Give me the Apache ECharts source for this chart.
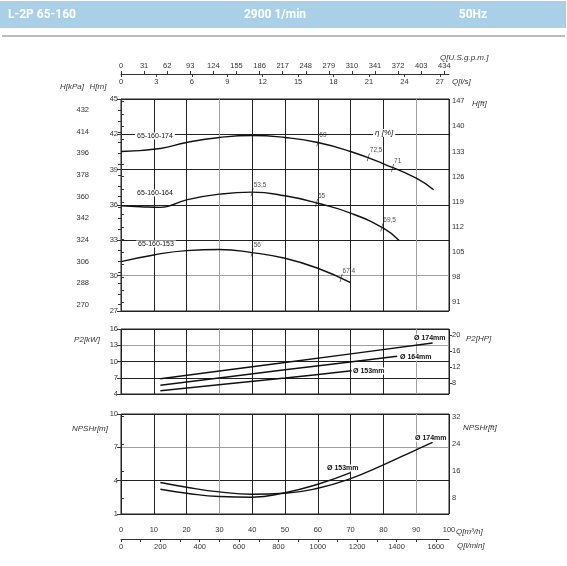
<!DOCTYPE html>
<html><head><meta charset="utf-8">
<script src="https://cdn.jsdelivr.net/npm/echarts@6.0.0/dist/echarts.min.js"></script>
<style>html,body{margin:0;padding:0;background:#fff}#c{width:567px;height:566px}</style>
</head><body><div id="c"></div>
<script>
// ---------- DATA ----------
// Head curves H[m] vs Q[m3/h]
const Q174 = [0, 12, 20, 30, 40, 50, 60, 70, 80, 90, 95.3];
const H174 = [40.54, 40.80, 41.31, 41.73, 41.90, 41.73, 41.31, 40.54, 39.5, 38.28, 37.29];
const Q164 = [0, 6, 12, 20, 30, 40, 50, 60, 70, 80, 84.8];
const H164 = [35.93, 35.85, 35.8, 36.44, 36.92, 37.09, 36.78, 36.15, 35.31, 34.03, 32.98];
const Q153 = [0, 10, 20, 30, 40, 50, 60, 70];
const H153 = [31.19, 31.76, 32.13, 32.22, 31.96, 31.48, 30.63, 29.41];
// Efficiency marks [Q, H, label]
const E174 = [[60, 41.31, '69'], [75.4, 40.05, '72,5'], [82.8, 39.15, '71']];
const E164 = [[40, 37.09, '53,5'], [59.6, 36.18, '65'], [79.5, 34.1, '69,5']];
const E153 = [[40, 31.96, '56'], [67.1, 29.8, '67,4']];
// Power P2[kW]
const QP174 = [12, 50, 95];
const P174 = [6.83, 9.8, 13.42];
const QP164 = [12, 50, 84.2];
const P164 = [5.6, 8.47, 10.95];
const QP153 = [12, 50, 70.3];
const P153 = [4.6, 6.94, 8.3];
// NPSHr[m]
const QN174 = [12, 20, 30, 40, 50, 60, 70, 80, 90, 95];
const N174 = [3.83, 3.41, 2.99, 2.78, 2.87, 3.32, 4.19, 5.42, 6.78, 7.44];
const QN153 = [12, 20, 30, 40, 50, 60, 70];
const N153 = [3.23, 2.87, 2.57, 2.51, 2.92, 3.68, 4.73];
// Tick labels
const qTicks = [0, 10, 20, 30, 40, 50, 60, 70, 80, 90, 100];
const gpmTicks = [0, 31, 62, 93, 124, 155, 186, 217, 248, 279, 310, 341, 372, 403, 434];
const lsTicks = [0, 3, 6, 9, 12, 15, 18, 21, 24, 27];
const lminTicks = [0, 200, 400, 600, 800, 1000, 1200, 1400, 1600];
const hmTicks = [27, 30, 33, 36, 39, 42, 45];
const kpaTicks = [270, 288, 306, 324, 342, 360, 378, 396, 414, 432];
const hftTicks = [91, 98, 105, 112, 119, 126, 133, 140, 147];
const kwTicks = [4, 7, 10, 13, 16];
const hpTicks = [8, 12, 16, 20];
const npshTicks = [1, 4, 7, 10];
const npshFtTicks = [8, 16, 24, 32];

// ---------- helpers ----------
const NARROW = "'Liberation Sans Narrow','Liberation Sans',Arial,sans-serif";
const SANS = "'Liberation Sans',Arial,sans-serif";
const pair = (xs, ys) => xs.map((x, i) => [x, ys[i]]);
const minor = (arr, step) => { const o = []; for (let v = arr[0]; v <= arr[arr.length - 1] + 1e-9; v += step) o.push(+v.toFixed(4)); return o; };
const D = '#222', G = '#a0a0a0';
const fmt = v => String(Math.round(v * 100) / 100);
const lab = { fontFamily: NARROW, fontSize: 7.5, color: '#333', formatter: fmt };
const M3H_PER_LS = 3.6, GPM_PER_M3H = 4.40287, LMIN_PER_M3H = 16.6667;
const KPA_PER_M = 9.80665, FT_PER_M = 3.28084, HP_PER_KW = 1.34102;

function sideAxis(grid, pos, min, max, ticks, tickVals, offset) {
  return {
    gridIndex: grid, type: 'value', position: pos, offset: offset || 0, min: min, max: max,
    axisLine: { show: !!offset, lineStyle: { color: '#333', width: 1 } },
    axisTick: { show: true, length: 3, customValues: tickVals || ticks, lineStyle: { color: '#333' } },
    axisLabel: Object.assign({}, lab, { customValues: ticks, margin: 3 }),
    splitLine: { show: false }
  };
}
function curve(name, xi, yi, data, w, sm) {
  return { name: name, type: 'line', xAxisIndex: xi, yAxisIndex: yi, data: data,
    smooth: sm === undefined ? 0.5 : sm, symbol: 'none', lineStyle: { color: '#111', width: w || 1.4 }, z: 5 };
}
function eta(data) {
  return { type: 'scatter', xAxisIndex: 0, yAxisIndex: 0, data: data,
    symbol: 'path://M0,10L3,0L4,0L1,10Z', symbolSize: [3, 8], itemStyle: { color: '#222' }, z: 6,
    label: { show: true, position: [3, -3], align: 'left', verticalAlign: 'middle',
      formatter: p => p.data[2], fontFamily: NARROW, fontSize: 6.5, color: '#222' } };
}
function txt(x, y, text, o) {
  o = o || {};
  return { type: 'text', x: x, y: y, z: 20, style: Object.assign({
    text: text, fill: '#333', font: 'italic 8px ' + SANS, textAlign: 'left', textVerticalAlign: 'middle' }, o) };
}

const chart = echarts.init(document.getElementById('c'));
const option = {
  animation: false,
  backgroundColor: '#fff',
  grid: [
    { left: 121, top: 99, width: 328, height: 212, show: true, borderColor: '#222', borderWidth: 1, backgroundColor: 'transparent' },
    { left: 121, top: 329, width: 328, height: 65, show: true, borderColor: '#222', borderWidth: 1, backgroundColor: 'transparent' },
    { left: 121, top: 414, width: 328, height: 100, show: true, borderColor: '#222', borderWidth: 1, backgroundColor: 'transparent' }
  ],
  xAxis: [
    { gridIndex: 0, type: 'value', min: 0, max: 100, interval: 10, axisLine: { show: false }, axisTick: { show: false },
      axisLabel: { show: false }, splitLine: { show: true, lineStyle: { color: [D, D, D, G, D, D], width: 1 } } },
    { gridIndex: 0, type: 'value', position: 'top', offset: 25, min: 0, max: 100 * GPM_PER_M3H,
      axisLine: { show: true, lineStyle: { color: '#333', width: 1 } },
      axisTick: { show: true, length: 3, customValues: gpmTicks, lineStyle: { color: '#333' } },
      axisLabel: Object.assign({}, lab, { customValues: gpmTicks, margin: 4 }), splitLine: { show: false } },
    { gridIndex: 0, type: 'value', position: 'top', offset: 25, min: 0, max: 100 / M3H_PER_LS,
      axisLine: { show: false },
      axisTick: { show: true, inside: true, length: 3, customValues: lsTicks, lineStyle: { color: '#333' } },
      axisLabel: Object.assign({}, lab, { customValues: lsTicks, inside: true, margin: 4 }), splitLine: { show: false } },
    { gridIndex: 1, type: 'value', min: 0, max: 100, interval: 10, axisLine: { show: false }, axisTick: { show: false },
      axisLabel: { show: false }, splitLine: { show: true, lineStyle: { color: [D, D, D, G, D, D], width: 1 } } },
    { gridIndex: 2, type: 'value', min: 0, max: 100, interval: 10, axisLine: { show: false }, axisTick: { show: false },
      axisLabel: Object.assign({}, lab, { customValues: qTicks, margin: 12 }),
      splitLine: { show: true, lineStyle: { color: [D, D, D, G, D, D], width: 1 } } },
    { gridIndex: 2, type: 'value', position: 'bottom', offset: 25, min: 0, max: 100 * LMIN_PER_M3H,
      axisLine: { show: true, lineStyle: { color: '#333', width: 1 } },
      axisTick: { show: true, length: 3, customValues: minor(lminTicks, 100), lineStyle: { color: '#333' } },
      axisLabel: Object.assign({}, lab, { customValues: lminTicks, margin: 4 }), splitLine: { show: false } }
  ],
  yAxis: [
    { gridIndex: 0, type: 'value', min: 27, max: 45, interval: 1.5, axisLine: { show: false },
      axisTick: { show: true, length: 4, customValues: hmTicks, lineStyle: { color: '#333' } },
      axisLabel: Object.assign({}, lab, { customValues: hmTicks, margin: 3 }),
      splitLine: { show: true, lineStyle: { color: [D, G, D, D, D, D, D], width: 1 } } },
    sideAxis(0, 'left', 27 * KPA_PER_M, 45 * KPA_PER_M, kpaTicks, minor(kpaTicks, 9), 29),
    sideAxis(0, 'right', 27 * FT_PER_M, 45 * FT_PER_M, hftTicks, minor(hftTicks, 3.5)),
    { gridIndex: 1, type: 'value', min: 4, max: 16, interval: 3, axisLine: { show: false },
      axisTick: { show: true, length: 4, customValues: kwTicks, lineStyle: { color: '#333' } },
      axisLabel: Object.assign({}, lab, { customValues: kwTicks, margin: 3 }),
      splitLine: { show: true, lineStyle: { color: [D, D, D, G], width: 1 } } },
    sideAxis(1, 'right', 4 * HP_PER_KW, 16 * HP_PER_KW, hpTicks),
    { gridIndex: 2, type: 'value', min: 1, max: 10, interval: 1.5, axisLine: { show: false },
      axisTick: { show: true, length: 4, customValues: npshTicks, lineStyle: { color: '#333' } },
      axisLabel: Object.assign({}, lab, { customValues: npshTicks, margin: 3 }),
      splitLine: { show: true, lineStyle: { color: [D, D, G, D, D, D, D], width: 1 } } },
    sideAxis(2, 'right', 1 * FT_PER_M, 10 * FT_PER_M, npshFtTicks)
  ],
  series: [
    curve('65-160-174', 0, 0, pair(Q174, H174)),
    curve('65-160-164', 0, 0, pair(Q164, H164)),
    curve('65-160-153', 0, 0, pair(Q153, H153)),
    eta(E174), eta(E164), eta(E153),
    curve('P2 174', 3, 3, pair(QP174, P174), 1.5, 0.3),
    curve('P2 164', 3, 3, pair(QP164, P164), 1.5, 0.3),
    curve('P2 153', 3, 3, pair(QP153, P153), 1.5, 0.3),
    curve('NPSH 174', 4, 5, pair(QN174, N174), 1.4),
    curve('NPSH 153', 4, 5, pair(QN153, N153), 1.4)
  ],
  graphic: [
    { type: 'rect', shape: { x: 0, y: 1, width: 566, height: 27 }, style: { fill: '#a9d0e6' }, z: 1 },
    txt(8, 15, 'L-2P 65-160', { fill: '#fff', font: 'bold 12px Roboto, ' + SANS }),
    txt(275, 15, '2900 1/min', { fill: '#fff', font: 'bold 12px Roboto, ' + SANS, textAlign: 'center' }),
    txt(473, 15, '50Hz', { fill: '#fff', font: 'bold 12px Roboto, ' + SANS, textAlign: 'center' }),
    { type: 'line', shape: { x1: 2, y1: 36, x2: 565, y2: 36 }, style: { stroke: '#7a7a7a', lineWidth: 1.2 }, z: 1 },
    txt(440, 58, 'Q[U.S.g.p.m.]'),
    txt(452, 82, 'Q[l/s]'),
    txt(72, 87, 'H[kPa]', { textAlign: 'center' }),
    txt(98, 87, 'H[m]', { textAlign: 'center' }),
    txt(472, 104, 'H[ft]'),
    txt(87, 340, 'P2[kW]', { textAlign: 'center' }),
    txt(466, 339, 'P2[HP]'),
    txt(90, 429, 'NPSHr[m]', { textAlign: 'center' }),
    txt(463, 428, 'NPSHr[ft]'),
    txt(456, 532, 'Q[m³/h]'),
    txt(457, 546, 'Q[l/min]'),
    txt(155, 136, '65-160-174', { font: '7px ' + SANS, fill: '#111', textAlign: 'center', backgroundColor: '#fff', padding: [0, 2] }),
    txt(155, 193, '65-160-164', { font: '7px ' + SANS, fill: '#111', textAlign: 'center', backgroundColor: '#fff', padding: [0, 2] }),
    txt(156, 244, '65-160-153', { font: '7px ' + SANS, fill: '#111', textAlign: 'center', backgroundColor: '#fff', padding: [0, 2] }),
    txt(373, 133, 'η [%]', { font: 'italic 8px ' + SANS, fill: '#222', backgroundColor: '#fff', padding: [0, 2] }),
    txt(413, 338, 'Ø 174mm', { font: 'bold 7px ' + SANS, fill: '#111', backgroundColor: '#fff', padding: [0, 1] }),
    txt(399, 357, 'Ø 164mm', { font: 'bold 7px ' + SANS, fill: '#111', backgroundColor: '#fff', padding: [0, 1] }),
    txt(352, 371, 'Ø 153mm', { font: 'bold 7px ' + SANS, fill: '#111', backgroundColor: '#fff', padding: [0, 1] }),
    txt(414, 438, 'Ø 174mm', { font: 'bold 7px ' + SANS, fill: '#111', backgroundColor: '#fff', padding: [0, 1] }),
    txt(326, 468, 'Ø 153mm', { font: 'bold 7px ' + SANS, fill: '#111', backgroundColor: '#fff', padding: [0, 1] })
  ]
};
chart.setOption(option);
</script>
</body></html>
